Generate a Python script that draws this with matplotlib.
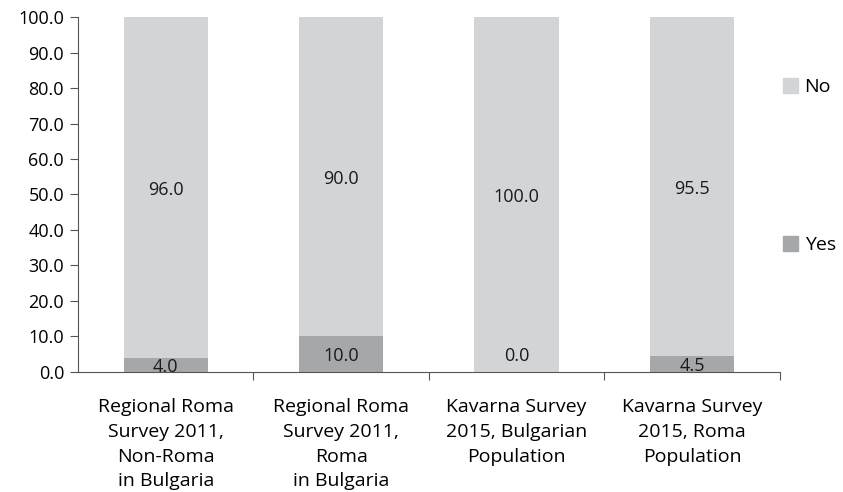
import numpy as np
import matplotlib
matplotlib.use("Agg")
import matplotlib.pyplot as plt
from matplotlib.patches import Patch

plt.rcParams['font.family'] = ['Open Sans', 'DejaVu Sans']

categories = ["Regional Roma\nSurvey 2011,\nNon-Roma\nin Bulgaria",
              "Regional Roma\nSurvey 2011,\nRoma\nin Bulgaria",
              "Kavarna Survey\n2015, Bulgarian\nPopulation",
              "Kavarna Survey\n2015, Roma\nPopulation"]
yes_vals = [4.0, 10.0, 0.0, 4.5]
no_vals = [96.0, 90.0, 100.0, 95.5]

col_no = "#d3d4d6"
col_yes = "#a6a7aa"

fig = plt.figure(figsize=(8.43, 4.92), dpi=100)
ax = fig.add_axes([0.0925, 0.244, 0.8325, 0.7214])

x = np.arange(len(categories))
ax.bar(x, yes_vals, width=0.48, color=col_yes)
ax.bar(x, no_vals, width=0.48, bottom=yes_vals, color=col_no)

# etiquetas de valores
for i in range(len(x)):
    y_pos = yes_vals[i] / 2 if yes_vals[i] > 0 else 5
    ax.text(x[i], y_pos - 0.5, f"{yes_vals[i]:.1f}", ha='center', va='center', fontsize=13, color='#1a1a1a')
    ax.text(x[i], yes_vals[i] + no_vals[i] / 2 - 0.7, f"{no_vals[i]:.1f}", ha='center', va='center', fontsize=13, color='#1a1a1a')

ax.set_xlim(-0.5, len(categories) - 0.5)
ax.set_ylim(0, 100)
ax.set_yticks(np.arange(0, 101, 10))
ax.set_yticklabels([f"{v:.1f}" for v in np.arange(0, 101, 10)], fontsize=13)
ax.set_xticks(x)
ax.set_xticklabels(categories, fontsize=14, linespacing=1.47)
ax.tick_params(axis='x', length=0, pad=19)
ax.set_xticks(np.arange(0.5, len(categories), 1), minor=True)
ax.tick_params(axis='x', which='minor', length=6, width=0.8, color='#555555')
ax.tick_params(axis='y', length=6, width=0.8, color='#555555', pad=4)

for s in ['top', 'right']:
    ax.spines[s].set_visible(False)
for s in ['left', 'bottom']:
    ax.spines[s].set_color('#555555')
    ax.spines[s].set_linewidth(0.8)

handles = [Patch(color=col_no, label='No'), Patch(color=col_yes, label='Yes')]
ax.legend(handles=handles, loc='upper left', bbox_to_anchor=(0.993, 0.85), frameon=False,
          borderaxespad=0, fontsize=14, labelspacing=7.2, handlelength=0.77,
          handleheight=0.77, handletextpad=0.36)

fig.savefig("out.png", dpi=100)
